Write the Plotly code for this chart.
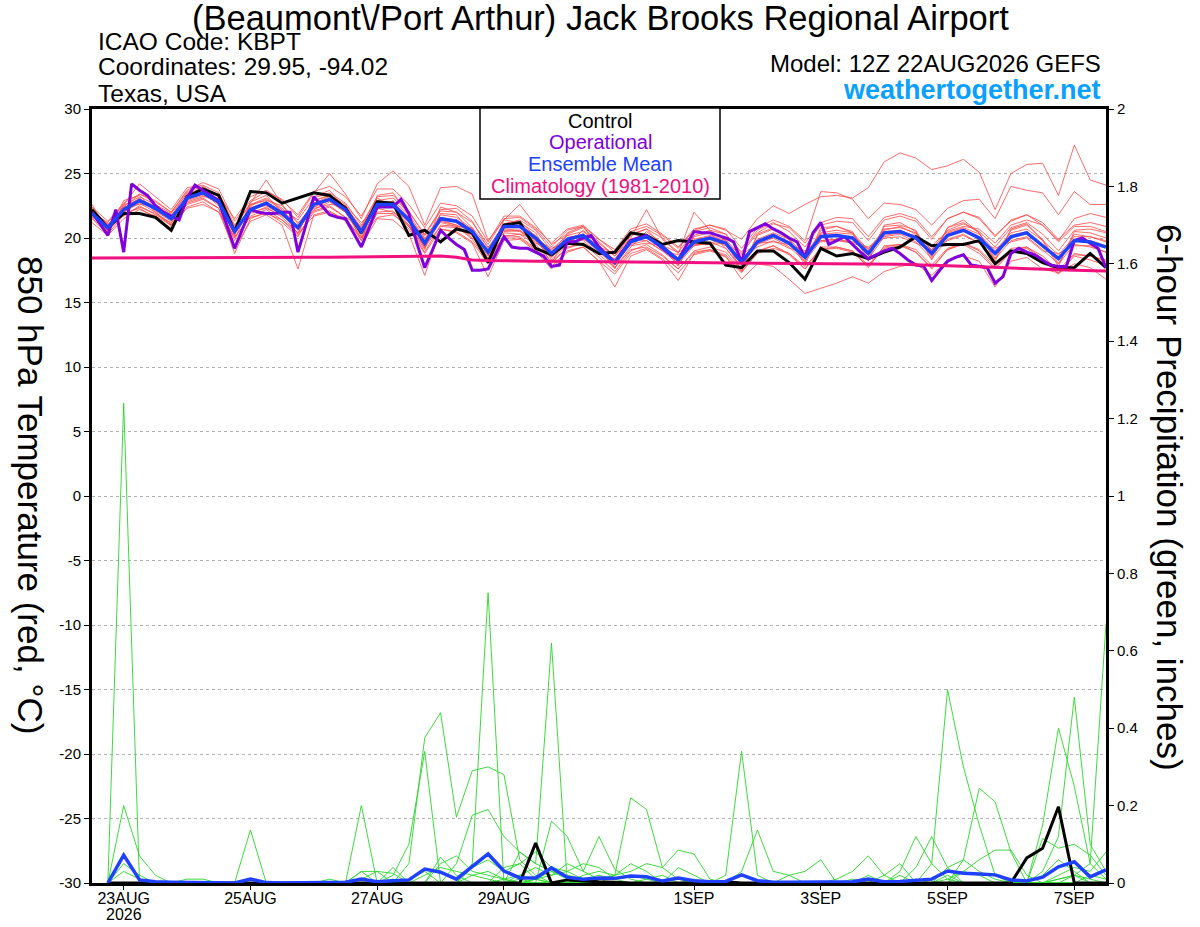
import pandas as pd
import plotly.graph_objects as go

# ---------------- time axes ----------------
START = "2026-08-22 12:00"
times6 = pd.date_range(START, periods=65, freq="6h")
times3 = pd.date_range(START, periods=129, freq="3h")
ptimes = times6[1:]

tick_dates = ["2026-08-23", "2026-08-25", "2026-08-27", "2026-08-29",
              "2026-09-01", "2026-09-03", "2026-09-05", "2026-09-07"]
tick_labels = ["23AUG", "25AUG", "27AUG", "29AUG", "1SEP", "3SEP", "5SEP", "7SEP"]
year_label = "2026"
temp_ticks = [-30, -25, -20, -15, -10, -5, 0, 5, 10, 15, 20, 25, 30]
temp_tick_labels = ["-30", "-25", "-20", "-15", "-10", "-5", "0", "5", "10", "15", "20", "25", "30"]
precip_ticks = [0, 0.2, 0.4, 0.6, 0.8, 1, 1.2, 1.4, 1.6, 1.8, 2]
precip_tick_labels = ["0", "0.2", "0.4", "0.6", "0.8", "1", "1.2", "1.4", "1.6", "1.8", "2"]

# ---------------- 850 hPa temperature (C) ----------------
control_t = [22.2, 20.8, 21.9, 21.9, 21.6, 20.6, 23.2, 23.8, 23.3, 20.5,
             23.6, 23.5, 22.7, 23.1, 23.5, 23.3, 22.3, 20.4, 22.8, 22.7,
             20.2, 20.6, 19.7, 20.7, 20.4, 18.1, 21.0, 21.2, 19.2, 18.7,
             19.6, 19.5, 18.8, 18.9, 20.4, 20.2, 19.5, 19.8, 19.7, 19.6,
             17.9, 17.7, 19.0, 19.0, 18.1, 16.8, 19.2, 18.6, 18.8, 18.4,
             18.9, 19.3, 20.1, 19.4, 19.5, 19.5, 19.8, 18.0, 19.0, 18.8,
             18.1, 17.7, 17.7, 18.8, 17.7]

mean_t = [21.9, 20.8, 22.2, 22.9, 22.3, 21.5, 23.1, 23.5, 22.8, 20.5,
          22.2, 22.7, 21.9, 20.8, 22.6, 23.0, 22.2, 20.5, 22.6, 22.6,
          21.4, 19.6, 21.5, 21.3, 20.5, 18.9, 20.9, 20.9, 20.0, 18.8,
          19.9, 20.2, 19.1, 18.1, 19.7, 20.1, 19.3, 18.3, 19.7, 20.0,
          19.6, 18.1, 19.7, 20.2, 19.6, 18.5, 20.1, 20.2, 20.0, 18.8,
          20.4, 20.5, 20.0, 18.8, 20.2, 20.6, 20.0, 18.8, 20.1, 20.4,
          19.4, 18.4, 19.8, 19.7, 19.3]

oper_t = [22.0, 21.1, 20.2, 22.2, 18.9, 24.2, 23.7, 23.3, 22.5, 22.0,
          21.7, 21.4, 23.1, 24.1, 23.7, 23.3, 22.9, 21.0, 19.2, 20.7,
          22.2, 22.0, 21.9, 21.9, 22.0, 22.0, 18.9, 21.0, 23.2, 22.5,
          21.8, 21.6, 21.5, 20.4, 19.3, 20.8, 22.4, 22.4, 22.4, 23.0,
          21.9, 19.6, 17.7, 19.1, 20.6, 20.0, 19.5, 19.1, 17.5, 17.5,
          17.6, 18.8, 20.1, 19.3, 19.2, 19.2, 18.9, 18.6, 17.8, 17.9,
          19.7, 19.7, 20.0, 20.2, 19.3, 18.7, 18.1, 19.0, 19.8, 20.0,
          20.2, 19.7, 19.2, 18.7, 18.3, 19.4, 20.5, 20.4, 20.4, 20.2,
          20.0, 19.7, 18.1, 20.5, 20.8, 21.1, 20.7, 20.4, 20.0, 19.7,
          18.5, 20.4, 21.2, 19.5, 19.8, 20.1, 19.5, 18.9, 18.4, 18.7,
          19.0, 19.2, 18.8, 18.3, 17.9, 17.8, 16.7, 17.5, 18.2, 18.5,
          18.7, 17.9, 17.8, 17.7, 16.5, 17.0, 18.8, 19.2, 18.9, 18.7,
          18.3, 17.9, 17.8, 17.8, 19.8, 20.0, 19.6, 19.2, 17.7]

clim_t = [18.45, 18.45, 18.46, 18.46, 18.46, 18.47, 18.47, 18.48, 18.48, 18.49,
          18.50, 18.50, 18.50, 18.50, 18.50, 18.51, 18.52, 18.53, 18.55, 18.56,
          18.58, 18.60, 18.60, 18.50, 18.30, 18.25, 18.22, 18.20, 18.20, 18.19,
          18.18, 18.17, 18.16, 18.15, 18.14, 18.14, 18.13, 18.12, 18.12, 18.11,
          18.10, 18.10, 18.08, 18.07, 18.05, 18.04, 18.03, 18.02, 18.01, 18.00,
          17.98, 17.96, 17.93, 17.90, 17.86, 17.82, 17.78, 17.73, 17.68, 17.62,
          17.57, 17.53, 17.50, 17.47, 17.45]

members_t = [
    [22.4, 21.3, 22.7, 23.4, 22.8, 22.0, 23.6, 24.0, 23.3, 21.5, 23.2, 23.7, 22.9, 21.8, 23.6, 24.0,
     23.2, 21.7, 23.8, 23.8, 22.6, 20.8, 22.7, 22.5, 21.7, 19.7, 21.7, 21.7, 20.8, 19.6, 20.7, 21.0,
     19.9, 19.1, 20.7, 21.1, 20.3, 19.3, 20.7, 21.0, 20.6, 19.9, 21.5, 22.5, 21.9, 22.6, 23.2, 23.3,
     23.1, 23.9, 25.9, 26.6, 26.2, 25.3, 25.6, 26.1, 25.1, 22.2, 25.0, 25.7, 25.8, 23.3, 27.2, 24.5, 24.1],
    [21.5, 20.3, 21.8, 22.4, 21.9, 21.0, 22.6, 23.0, 22.3, 20.0, 21.7, 22.2, 21.4, 20.2, 22.0, 22.4,
     21.6, 19.8, 21.9, 21.9, 20.7, 18.8, 20.7, 20.5, 19.7, 18.0, 20.0, 20.0, 19.1, 17.8, 19.0, 19.3,
     18.2, 17.2, 18.8, 19.2, 18.4, 17.3, 18.7, 19.0, 18.6, 16.8, 18.0, 17.8, 16.8, 15.7, 16.1, 16.5,
     17.0, 16.5, 17.4, 17.8, 18.0, 17.1, 18.3, 18.6, 18.2, 16.2, 18.2, 18.5, 17.6, 17.3, 18.0, 17.7, 16.8],
    [22.3, 21.0, 22.5, 23.2, 22.6, 21.9, 23.4, 23.9, 23.2, 20.9, 22.6, 23.1, 22.3, 21.4, 23.1, 23.5,
     22.7, 21.0, 23.2, 23.3, 22.1, 20.2, 22.1, 22.0, 21.2, 19.5, 21.5, 21.6, 20.7, 19.3, 20.6, 20.9,
     19.9, 18.9, 20.5, 20.9, 20.2, 19.2, 20.6, 21.0, 20.7, 19.2, 20.8, 21.4, 20.9, 19.8, 23.6, 23.5,
     23.0, 21.5, 22.7, 22.6, 22.2, 21.0, 22.3, 22.9, 23.0, 21.5, 24.0, 23.7, 23.5, 21.8, 23.6, 22.6, 22.6],
    [21.7, 20.6, 22.4, 23.4, 22.9, 22.0, 23.7, 24.3, 23.8, 21.3, 22.9, 23.6, 23.0, 21.6, 23.5, 25.0,
     23.4, 21.5, 24.2, 25.2, 24.0, 21.0, 23.9, 24.0, 23.4, 19.8, 21.4, 22.6, 21.0, 19.5, 20.3, 20.8,
     19.7, 18.6, 20.0, 22.2, 19.9, 18.8, 22.0, 20.6, 20.3, 18.8, 20.4, 21.1, 20.8, 19.6, 21.2, 21.6,
     21.5, 20.1, 21.6, 21.9, 21.5, 20.1, 21.5, 22.0, 21.6, 20.2, 21.3, 21.8, 21.2, 19.9, 21.0, 21.2, 20.9],
    [21.9, 20.5, 21.9, 22.3, 21.6, 20.7, 22.4, 22.8, 22.0, 19.2, 21.3, 21.8, 21.0, 17.6, 21.8, 22.1,
     21.3, 19.4, 21.5, 21.4, 20.3, 17.1, 20.7, 20.4, 19.6, 17.0, 19.8, 19.9, 19.0, 17.6, 18.9, 19.3,
     18.2, 16.2, 18.6, 19.1, 18.3, 16.7, 18.8, 19.1, 18.5, 17.3, 18.9, 19.4, 18.7, 17.6, 19.3, 19.3,
     19.0, 17.7, 19.4, 19.5, 18.9, 17.6, 19.1, 19.6, 19.0, 17.7, 19.0, 19.3, 18.4, 17.3, 18.7, 18.6, 18.2],
    [22.1, 21.1, 22.0, 22.7, 22.0, 21.1, 23.3, 23.8, 22.6, 20.2, 22.6, 22.9, 22.5, 21.2, 22.1, 22.5,
     21.6, 20.9, 23.1, 22.4, 21.0, 19.1, 21.9, 21.8, 20.3, 18.4, 21.4, 21.2, 20.4, 18.3, 19.5, 20.6,
     19.5, 17.7, 19.3, 20.5, 19.6, 17.9, 20.1, 20.4, 19.2, 17.6, 20.2, 20.7, 19.9, 18.1, 20.8, 20.9,
     20.5, 18.4, 20.9, 21.0, 20.6, 18.5, 20.8, 21.2, 20.4, 18.4, 20.6, 21.0, 19.9, 18.0, 20.3, 20.1, 19.7],
    [21.6, 20.9, 22.4, 22.6, 22.5, 21.8, 22.8, 23.2, 23.1, 20.8, 21.9, 22.4, 21.6, 20.4, 22.9, 23.3,
     22.6, 20.1, 22.2, 22.9, 21.8, 20.0, 21.2, 20.9, 20.8, 19.3, 20.5, 20.6, 19.6, 19.1, 20.2, 19.8,
     18.8, 18.4, 19.9, 19.8, 19.0, 18.7, 19.4, 19.6, 19.9, 18.5, 19.3, 19.8, 19.2, 18.9, 19.7, 19.8,
     19.6, 19.2, 20.0, 20.1, 19.6, 19.1, 19.8, 20.2, 19.6, 19.2, 19.7, 20.0, 19.0, 18.8, 19.4, 19.4, 18.9],
    [22.0, 20.7, 22.3, 23.1, 22.1, 21.3, 23.2, 23.6, 22.6, 20.4, 22.4, 22.5, 21.8, 20.6, 22.4, 22.9,
     22.0, 20.3, 22.5, 22.4, 21.2, 19.3, 21.6, 21.4, 20.2, 18.6, 20.7, 20.6, 19.8, 18.5, 19.6, 20.0,
     18.9, 17.9, 19.5, 19.8, 19.0, 18.0, 19.4, 19.7, 19.2, 17.8, 19.5, 20.0, 19.3, 18.2, 19.8, 19.9,
     19.6, 18.4, 20.1, 20.3, 19.7, 18.4, 19.9, 20.3, 19.6, 18.4, 19.8, 20.1, 19.1, 18.0, 19.5, 19.3, 18.9],
    [21.8, 20.4, 22.6, 24.2, 23.2, 22.2, 23.9, 24.1, 23.5, 21.0, 22.7, 24.5, 22.6, 21.1, 22.7, 23.2,
     22.5, 20.8, 22.9, 23.1, 22.0, 20.3, 22.2, 22.3, 21.3, 19.2, 21.1, 21.4, 20.6, 19.0, 20.2, 20.5,
     19.6, 18.6, 20.2, 20.7, 20.0, 18.9, 20.5, 20.8, 20.3, 18.9, 20.6, 21.2, 20.5, 19.3, 21.0, 21.3,
     21.2, 19.8, 21.4, 21.7, 21.3, 19.9, 21.5, 22.0, 21.5, 20.1, 21.4, 21.8, 21.0, 19.7, 20.9, 20.9, 20.5],
    [22.2, 21.0, 21.7, 22.5, 21.8, 21.2, 22.7, 23.1, 22.3, 18.8, 21.5, 22.0, 21.2, 20.1, 22.2, 22.8,
     22.0, 20.0, 22.0, 22.1, 20.9, 18.9, 21.0, 20.9, 19.9, 18.1, 20.2, 20.1, 19.2, 18.0, 19.3, 19.6,
     18.5, 17.4, 19.0, 19.5, 18.7, 17.6, 19.0, 19.3, 18.9, 17.5, 19.0, 19.4, 18.8, 17.6, 19.1, 19.2,
     18.9, 17.8, 19.2, 19.4, 18.9, 17.7, 19.1, 19.5, 18.8, 17.6, 18.9, 19.2, 18.3, 17.2, 18.6, 18.3, 17.9],
    [21.5, 20.6, 22.0, 22.8, 22.4, 21.6, 23.0, 23.4, 22.9, 20.6, 22.3, 22.8, 22.1, 20.9, 22.7, 22.9,
     22.0, 20.6, 22.7, 22.8, 21.6, 19.9, 21.8, 21.6, 20.7, 18.8, 20.9, 21.0, 20.2, 18.9, 20.0, 20.3,
     19.3, 18.3, 19.9, 20.3, 19.4, 18.4, 19.9, 20.2, 19.8, 18.2, 19.9, 20.4, 19.9, 18.7, 20.4, 20.6,
     20.4, 19.1, 20.7, 20.8, 20.4, 19.0, 20.4, 20.8, 20.3, 19.0, 20.4, 20.7, 19.8, 18.7, 20.1, 20.1, 19.8],
    [22.3, 20.9, 22.1, 23.0, 22.4, 21.4, 23.3, 23.7, 22.9, 20.3, 22.5, 23.0, 22.2, 20.8, 22.9, 23.3,
     22.4, 20.7, 22.9, 22.7, 21.3, 19.4, 21.3, 21.0, 20.5, 18.7, 20.6, 20.5, 19.7, 18.6, 19.7, 20.2,
     19.0, 18.1, 19.7, 20.2, 19.2, 18.2, 19.6, 19.9, 19.4, 18.0, 19.6, 20.1, 19.6, 18.4, 20.3, 20.4,
     20.3, 19.0, 20.6, 20.9, 20.3, 19.1, 20.6, 21.1, 20.5, 19.3, 20.8, 21.2, 20.3, 19.0, 20.6, 20.7, 20.4],
    [22.6, 20.5, 22.9, 23.3, 22.0, 20.9, 23.0, 23.8, 22.7, 19.8, 22.8, 23.3, 22.0, 20.3, 23.2, 23.7,
     22.3, 19.8, 23.3, 23.5, 21.8, 19.2, 22.4, 22.0, 20.8, 18.2, 21.0, 21.3, 20.1, 18.0, 20.4, 20.9,
     19.2, 17.6, 20.3, 20.7, 19.4, 17.8, 20.2, 20.6, 19.8, 17.4, 20.3, 20.8, 19.9, 17.9, 20.6, 20.9,
     20.4, 18.2, 21.0, 21.2, 20.5, 18.3, 20.8, 21.4, 20.4, 18.2, 20.7, 21.1, 19.8, 17.8, 20.5, 20.4, 20.0],
    [21.2, 20.2, 21.5, 22.2, 21.7, 21.0, 22.3, 22.6, 22.0, 20.1, 21.6, 21.9, 21.4, 20.4, 21.7, 22.0,
     21.5, 20.0, 21.6, 21.8, 20.9, 19.3, 20.9, 20.8, 20.2, 18.4, 20.1, 20.3, 19.5, 18.2, 19.2, 19.6,
     18.7, 17.7, 19.1, 19.3, 18.6, 17.6, 18.9, 19.1, 18.7, 17.4, 18.8, 19.2, 18.8, 17.8, 19.1, 19.3,
     19.0, 17.9, 19.3, 19.5, 19.1, 17.9, 19.2, 19.6, 19.1, 17.9, 19.2, 19.3, 18.6, 17.5, 18.8, 18.6, 18.3],
    [22.0, 21.2, 22.6, 22.9, 22.2, 21.7, 23.5, 23.5, 22.5, 20.7, 22.0, 22.3, 21.7, 21.0, 22.3, 22.6,
     22.5, 21.2, 22.3, 22.0, 21.0, 20.2, 21.4, 21.0, 20.0, 19.0, 20.4, 20.3, 19.9, 19.2, 19.7, 19.9,
     19.3, 18.8, 19.4, 19.6, 19.4, 18.9, 19.5, 19.5, 19.6, 18.7, 19.6, 19.7, 19.5, 19.0, 19.8, 19.9,
     19.7, 19.3, 20.2, 20.4, 20.2, 19.4, 20.5, 20.9, 20.7, 19.6, 21.0, 21.4, 21.0, 19.8, 21.5, 21.9, 21.6],
    [21.8, 20.8, 22.3, 23.0, 22.5, 21.6, 22.9, 23.3, 22.7, 20.6, 22.1, 22.6, 21.9, 20.9, 22.4, 23.0,
     22.3, 20.4, 22.4, 22.6, 21.6, 19.8, 21.5, 21.4, 20.6, 18.9, 20.8, 20.8, 19.9, 18.6, 20.0, 20.3,
     19.2, 18.2, 19.8, 20.1, 19.3, 18.4, 19.8, 20.1, 19.7, 18.2, 19.8, 20.3, 19.7, 18.5, 20.1, 20.3,
     20.0, 18.8, 20.5, 20.6, 20.1, 18.8, 20.3, 20.7, 20.1, 18.8, 20.2, 20.5, 19.5, 18.4, 19.9, 19.8, 19.4],
]

# ---------------- 6-hour precipitation (inches), valid 22AUG 18Z onward ----------------
control_p = [0, 0, 0, 0, 0, 0, 0, 0,
             0, 0, 0, 0, 0, 0, 0, 0,
             0, 0, 0, 0, 0, 0, 0, 0,
             0, 0, 0, 0.103, 0, 0.008, 0.005, 0.003,
             0.002, 0, 0, 0, 0, 0, 0.002, 0.003,
             0, 0, 0, 0, 0, 0, 0, 0,
             0, 0, 0, 0, 0, 0, 0, 0,
             0, 0, 0.065, 0.09, 0.197, 0, 0, 0]

mean_p = [0, 0.072, 0.008, 0.003, 0.002, 0.001, 0, 0,
          0, 0.01, 0.001, 0, 0, 0.001, 0.001, 0.002,
          0.01, 0.003, 0.006, 0.008, 0.036, 0.028, 0.01, 0.042,
          0.075, 0.031, 0.013, 0.013, 0.039, 0.015, 0.01, 0.013,
          0.012, 0.018, 0.016, 0.005, 0.013, 0.006, 0.003, 0.004,
          0.021, 0.006, 0.002, 0.002, 0.002, 0.004, 0.002, 0.003,
          0.01, 0.003, 0.004, 0.008, 0.01, 0.031, 0.025, 0.023,
          0.021, 0.008, 0.005, 0.015, 0.042, 0.055, 0.016, 0.034]

members_p = [
    [0, 1.24, 0, 0, 0, 0, 0, 0,  0, 0, 0, 0, 0, 0, 0, 0,  0, 0, 0.01, 0, 0, 0, 0, 0,
     0, 0, 0.02, 0.01, 0, 0, 0, 0,  0, 0, 0, 0, 0, 0, 0, 0,  0, 0, 0, 0, 0, 0, 0, 0,
     0, 0, 0, 0, 0, 0, 0.06, 0.245,  0.21, 0.08, 0, 0, 0.01, 0.02, 0, 0],
    [0, 0.2, 0.07, 0.02, 0, 0, 0, 0,  0, 0, 0, 0, 0, 0, 0, 0,  0, 0, 0, 0.01, 0.03, 0, 0, 0.02,
     0.03, 0.01, 0, 0, 0.16, 0.12, 0.03, 0.12,  0.035, 0.01, 0, 0, 0, 0, 0, 0,  0, 0, 0, 0, 0, 0, 0, 0,
     0, 0, 0, 0.01, 0, 0.02, 0, 0,  0, 0, 0, 0.115, 0.09, 0.1, 0.072, 0.02],
    [0, 0.05, 0.02, 0, 0, 0, 0, 0,  0, 0, 0, 0, 0, 0, 0, 0,  0.03, 0.03, 0, 0, 0, 0, 0.05, 0.175,
     0.19, 0.12, 0.08, 0.05, 0.03, 0.01, 0, 0,  0, 0, 0.01, 0.02, 0, 0, 0, 0,  0, 0, 0, 0, 0, 0, 0, 0,
     0.02, 0, 0, 0, 0, 0.01, 0.03, 0.02,  0, 0, 0, 0.15, 0.4, 0.25, 0.05, 0.01],
    [0, 0.03, 0.01, 0, 0, 0, 0, 0,  0, 0.01, 0, 0, 0, 0, 0, 0,  0, 0, 0, 0, 0, 0, 0, 0,
     0, 0.01, 0.02, 0.04, 0.02, 0.05, 0.03, 0.01,  0.02, 0.05, 0.03, 0, 0, 0.01, 0, 0,  0, 0, 0, 0, 0, 0, 0, 0,
     0, 0, 0, 0, 0, 0.04, 0.06, 0.03,  0.01, 0, 0, 0.03, 0.12, 0.48, 0.1, 0.03],
    [0, 0, 0, 0, 0, 0, 0, 0,  0, 0.137, 0, 0, 0, 0, 0, 0,  0, 0, 0, 0, 0, 0, 0, 0,
     0, 0, 0, 0.01, 0.03, 0.02, 0.01, 0,  0.02, 0.22, 0.19, 0.04, 0.01, 0, 0, 0,  0, 0, 0, 0, 0, 0, 0, 0,
     0, 0, 0, 0, 0, 0, 0, 0,  0, 0, 0, 0, 0.01, 0.02, 0.05, 0.67],
    [0, 0, 0, 0, 0, 0, 0, 0,  0, 0, 0, 0, 0, 0, 0.01, 0,  0.2, 0, 0, 0, 0.02, 0.04, 0.03, 0.02,
     0.01, 0, 0, 0, 0, 0, 0.02, 0.03,  0.02, 0.03, 0.05, 0.04, 0.085, 0.075, 0.01, 0,  0, 0, 0, 0, 0, 0, 0, 0,
     0, 0, 0.02, 0, 0, 0, 0, 0,  0, 0, 0, 0, 0.02, 0.04, 0.03, 0.08],
    [0, 0, 0, 0, 0, 0.01, 0.01, 0,  0, 0, 0, 0, 0, 0, 0, 0,  0.03, 0, 0.04, 0, 0, 0, 0, 0,
     0, 0, 0.01, 0, 0, 0, 0.01, 0,  0, 0, 0, 0, 0, 0, 0, 0.02,  0.34, 0.02, 0, 0, 0, 0, 0, 0,
     0, 0, 0, 0, 0, 0, 0, 0,  0, 0, 0, 0.02, 0.06, 0.03, 0, 0],
    [0, 0, 0, 0, 0, 0, 0, 0,  0, 0, 0, 0, 0, 0, 0, 0,  0, 0, 0, 0, 0, 0.05, 0.07, 0.03,
     0.02, 0.01, 0, 0, 0, 0, 0, 0,  0, 0, 0, 0, 0.04, 0.02, 0, 0,  0.03, 0.137, 0.03, 0.02, 0, 0, 0, 0,
     0, 0, 0, 0, 0, 0, 0, 0,  0, 0, 0, 0, 0, 0.02, 0.01, 0],
    [0, 0, 0, 0, 0, 0, 0, 0,  0, 0, 0, 0, 0, 0, 0, 0,  0.01, 0.03, 0.025, 0, 0, 0, 0, 0.04,
     0.06, 0.03, 0.05, 0.08, 0.04, 0.03, 0.05, 0.04,  0.01, 0, 0, 0, 0, 0, 0, 0,  0, 0, 0, 0.02, 0.03, 0.06, 0, 0.01,
     0, 0.02, 0.05, 0, 0, 0, 0, 0,  0, 0, 0, 0, 0, 0, 0.02, 0.01],
    [0, 0, 0, 0, 0, 0, 0, 0,  0, 0, 0, 0, 0, 0, 0, 0,  0, 0, 0.02, 0.1, 0.34, 0, 0, 0,
     0, 0, 0, 0, 0, 0, 0, 0,  0, 0, 0, 0, 0, 0, 0, 0,  0, 0, 0, 0, 0, 0, 0.01, 0.03,
     0.07, 0.02, 0, 0, 0, 0, 0, 0,  0, 0, 0, 0, 0, 0, 0, 0],
    [0, 0, 0, 0, 0, 0, 0, 0,  0, 0, 0, 0, 0, 0, 0, 0,  0, 0, 0, 0.05, 0.375, 0.44, 0.17, 0.29,
     0.30, 0.28, 0.06, 0.02, 0, 0, 0, 0,  0, 0, 0, 0, 0, 0, 0, 0,  0, 0, 0, 0, 0, 0, 0, 0,
     0, 0, 0.03, 0.12, 0.05, 0.01, 0, 0,  0, 0, 0, 0, 0, 0, 0, 0],
    [0, 0, 0, 0, 0, 0, 0, 0,  0, 0, 0, 0, 0, 0, 0, 0,  0, 0, 0, 0, 0, 0, 0, 0.05,
     0.75, 0, 0, 0.01, 0, 0, 0, 0,  0, 0, 0, 0, 0, 0, 0, 0,  0, 0, 0, 0, 0, 0, 0, 0,
     0, 0, 0, 0.04, 0.12, 0.04, 0, 0,  0, 0, 0, 0, 0, 0, 0, 0],
    [0, 0, 0, 0, 0, 0, 0, 0,  0, 0, 0, 0, 0, 0, 0, 0,  0, 0, 0, 0, 0, 0.067, 0.02, 0,
     0, 0.04, 0.05, 0.01, 0.02, 0.03, 0.01, 0,  0, 0, 0, 0, 0, 0, 0, 0,  0, 0, 0, 0, 0, 0, 0, 0,
     0, 0, 0, 0, 0.05, 0.5, 0.3, 0.15,  0.02, 0, 0, 0, 0, 0, 0, 0],
    [0, 0, 0, 0, 0, 0, 0, 0,  0, 0, 0, 0, 0, 0, 0, 0,  0, 0, 0, 0, 0, 0, 0, 0,
     0, 0, 0.08, 0.05, 0.62, 0, 0.01, 0.02,  0.01, 0.02, 0.01, 0, 0, 0, 0, 0,  0, 0, 0, 0, 0, 0, 0, 0,
     0, 0, 0, 0, 0, 0, 0.03, 0.06,  0.085, 0.085, 0.02, 0, 0, 0, 0, 0],
]

legend_items = ["Control", "Operational", "Ensemble Mean", "Climatology (1981-2010)"]

# ---------------- styles ----------------
FONT = "Liberation Sans, Arial, sans-serif"
C_CONTROL = "#000000"
C_OPER = "#8000dc"
C_MEAN = "#2040ff"
C_CLIM = "#f0107f"
C_MEMBER_T = "rgba(255,70,70,0.8)"
C_MEMBER_P = "rgba(40,215,40,0.9)"
legend_colors = [C_CONTROL, C_OPER, C_MEAN, C_CLIM]

fig = go.Figure()

for m in members_p:
    fig.add_trace(go.Scatter(x=ptimes[:len(m)], y=m, yaxis="y2", mode="lines",
                             line=dict(color=C_MEMBER_P, width=1), hoverinfo="skip"))
fig.add_trace(go.Scatter(x=ptimes[:len(control_p)], y=control_p, yaxis="y2", mode="lines",
                         line=dict(color=C_CONTROL, width=3)))
fig.add_trace(go.Scatter(x=ptimes[:len(mean_p)], y=mean_p, yaxis="y2", mode="lines",
                         line=dict(color=C_MEAN, width=3.5)))

for m in members_t:
    fig.add_trace(go.Scatter(x=times6[:len(m)], y=m, mode="lines",
                             line=dict(color=C_MEMBER_T, width=1), hoverinfo="skip"))
fig.add_trace(go.Scatter(x=times6[:len(control_t)], y=control_t, mode="lines",
                         line=dict(color=C_CONTROL, width=3)))
fig.add_trace(go.Scatter(x=times3[:len(oper_t)], y=oper_t, mode="lines",
                         line=dict(color=C_OPER, width=3)))
fig.add_trace(go.Scatter(x=times6[:len(mean_t)], y=mean_t, mode="lines",
                         line=dict(color=C_MEAN, width=3.5)))
fig.add_trace(go.Scatter(x=times6[:len(clim_t)], y=clim_t, mode="lines",
                         line=dict(color=C_CLIM, width=3)))

PL, PR, PT, PB = 92, 1106, 109, 883
W, H = 1200, 927
pw, ph = PR - PL, PB - PT


def px(x):
    return (x - PL) / pw


def py(y):
    return 1 + (PT - y) / ph


annotations = [
    dict(text="(Beaumont\\/Port Arthur) Jack Brooks Regional Airport", x=px(600), y=py(18),
         xanchor="center", yanchor="middle", font=dict(size=34.5, color="black")),
    dict(text="ICAO Code: KBPT", x=px(96), y=py(41), xanchor="left", yanchor="middle",
         font=dict(size=24.5, color="black")),
    dict(text="Coordinates: 29.95, -94.02", x=px(96), y=py(67), xanchor="left", yanchor="middle",
         font=dict(size=24.5, color="black")),
    dict(text="Texas, USA", x=px(96), y=py(93), xanchor="left", yanchor="middle",
         font=dict(size=24.5, color="black")),
    dict(text="Model: 12Z 22AUG2026 GEFS", x=px(1103), y=py(64), xanchor="right", yanchor="middle",
         font=dict(size=24, color="black")),
    dict(text="<b>weathertogether.net</b>", x=px(1103), y=py(90), xanchor="right", yanchor="middle",
         font=dict(size=27, color="#0aa0ff")),
    dict(text="850 hPa Temperature (red, °C)", x=px(31), y=py(495), textangle=90,
         xanchor="center", yanchor="middle", font=dict(size=35, color="black")),
    dict(text="6-hour Precipitation (green, inches)", x=px(1170), y=py(497), textangle=90,
         xanchor="center", yanchor="middle", font=dict(size=35, color="black")),
    dict(text=year_label, x=pd.Timestamp(tick_dates[0]), xref="x", y=py(914),
         xanchor="center", yanchor="middle", font=dict(size=16, color="black")),
]
legend_y = [121, 142, 164, 186]
for txt, col, yy in zip(legend_items, legend_colors, legend_y):
    annotations.append(dict(text=txt, x=px(600), y=py(yy), xanchor="center", yanchor="middle",
                            font=dict(size=20, color=col)))
for a in annotations:
    a.setdefault("xref", "paper")
    a.setdefault("yref", "paper")
    a["showarrow"] = False

shapes = [dict(type="rect", xref="paper", yref="paper", x0=px(480), x1=px(720),
               y0=py(199), y1=py(108), line=dict(color="black", width=1.5),
               fillcolor="white", layer="above")]

fig.update_layout(
    width=W, height=H, autosize=False,
    margin=dict(l=PL, r=W - PR, t=PT, b=H - PB, pad=0, autoexpand=False),
    paper_bgcolor="white", plot_bgcolor="white",
    showlegend=False,
    font=dict(family=FONT, color="black", size=15),
    annotations=annotations,
    shapes=shapes,
    xaxis=dict(
        type="date", range=[times6[0], times6[-1]],
        tickvals=pd.to_datetime(tick_dates), ticktext=tick_labels,
        ticks="outside", ticklen=4, tickwidth=1, tickcolor="black",
        ticklabelstandoff=-5,
        showgrid=False, zeroline=False,
        showline=True, linecolor="black", linewidth=3, mirror=True,
        tickfont=dict(size=16),
    ),
    yaxis=dict(
        range=[-30, 30], tickvals=temp_ticks, ticktext=temp_tick_labels,
        ticks="outside", ticklen=5, tickwidth=1, tickcolor="black",
        showgrid=True, gridcolor="#b0b0b0", griddash="dot", gridwidth=1,
        zeroline=False, showline=True, linecolor="black", linewidth=3,
        tickfont=dict(size=15),
    ),
    yaxis2=dict(
        range=[0, 2], overlaying="y", side="right",
        tickvals=precip_ticks, ticktext=precip_tick_labels,
        ticks="outside", ticklen=5, tickwidth=1, tickcolor="black",
        showgrid=False, zeroline=False, showline=True, linecolor="black", linewidth=3,
        tickfont=dict(size=15),
    ),
)

fig.write_html(
    "out.html",
    config={"responsive": False, "displayModeBar": False},
    post_script=("document.body.style.margin='0px';document.body.style.padding='0px';"
                 "document.documentElement.style.overflow='hidden';"
                 "document.body.style.overflow='hidden';"),
)
